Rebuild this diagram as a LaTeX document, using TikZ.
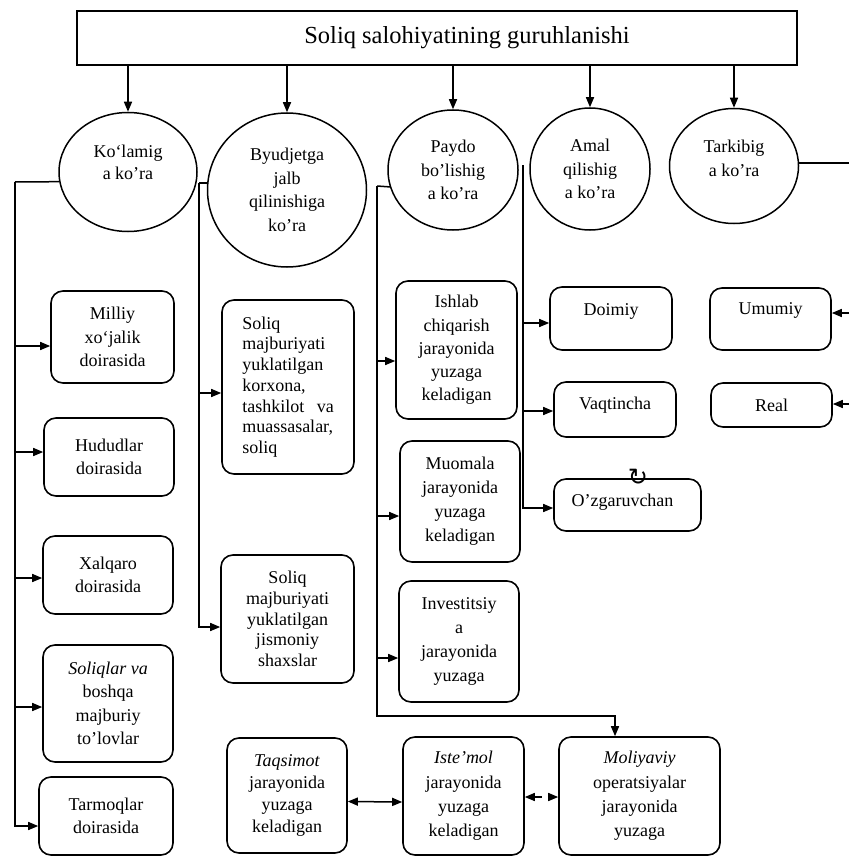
\documentclass[tikz,border=0pt]{standalone}
\usepackage{fontspec}
\setmainfont{Liberation Serif}
\newfontfamily\symfont{DejaVu Sans}
\usetikzlibrary{shapes.geometric,arrows.meta}

\begin{document}
\begin{tikzpicture}[x=1pt,y=-1pt,
  line width=1.5pt,
  every node/.style={font=\fontsize{18}{23.5}\selectfont, inner sep=0pt},
  box/.style={draw, rectangle, rounded corners=12pt, align=center, line width=1.6pt},
  oval/.style={draw, ellipse, align=center, line width=1.5pt},
  txt/.style={align=center},
  tight/.style={font=\fontsize{18}{20.7}\selectfont},
  arr/.style={-{Triangle[length=10pt,width=8pt]}},
  darr/.style={{Triangle[length=10pt,width=8pt]}-{Triangle[length=10pt,width=8pt]}},
]
\useasboundingbox (0,0) rectangle (849,856);

% heading
\node[draw, rectangle, minimum width=720, minimum height=54, line width=1.6pt,
      font=\fontsize{24.5}{28}\selectfont] (title) at (437,38)
      {\hspace*{60pt}Soliq salohiyatining guruhlanishi};

% five grouping criteria
\node[oval, minimum width=138, minimum height=119] (c1) at (128,172) {};
\node[txt, font=\fontsize{18}{21.5}\selectfont] (c1t) at ([yshift=9.5pt]c1.center) {Ko‘lamig\\a ko’ra};
\node[oval, minimum width=159, minimum height=154] (c2) at (287,190) {Byudjetga\\jalb\\qilinishiga\\ko’ra};
\node[oval, minimum width=130, minimum height=120] (c3) at (453,170) {Paydo\\bo’lishig\\a ko’ra};
\node[oval, minimum width=120, minimum height=122] (c4) at (590,169) {Amal\\qilishig\\a ko’ra};
\node[oval, minimum width=129, minimum height=115] (c5) at (734,166) {};
\node[txt] (c5t) at ([yshift=7.5pt]c5.center) {Tarkibig\\a ko’ra};

\foreach \c in {c1,c2,c3,c4,c5}
  \draw[arr] (title.south -| \c.north) -- (\c.north);

% by scale
\node[box, minimum width=123, minimum height=92] (milliy) at (112.5,337) {Milliy\\xo‘jalik\\doirasida};
\node[box, minimum width=130, minimum height=78] (hudud) at (109,457) {Hududlar\\doirasida};
\node[box, minimum width=130, minimum height=78] (xalqaro) at (108,575) {Xalqaro\\doirasida};
\node[box, minimum width=130, minimum height=117] (soliqlar) at (108,703.5) {\textit{Soliqlar va}\\boshqa\\majburiy\\to’lovlar};
\node[box, minimum width=134, minimum height=78] (tarmoq) at (106,816) {Tarmoqlar\\doirasida};

% by budget attraction
\node[box, tight, align=left, minimum width=132, minimum height=174] (korxona) at (288,387)
  {Soliq\\majburiyati\\yuklatilgan\\korxona,\\tashkilot\hspace{8pt} va\\muassasalar,\\soliq};
\node[box, tight, minimum width=133, minimum height=128] (jismoniy) at (287.5,619)
  {Soliq\\majburiyati\\yuklatilgan\\jismoniy\\shaxslar};

% by origin
\node[box, font=\fontsize{18}{23.3}\selectfont, minimum width=121, minimum height=138] (ishlab) at (456.5,350)
  {Ishlab\\chiqarish\\jarayonida\\yuzaga\\keladigan};
\node[box, font=\fontsize{18}{24}\selectfont, minimum width=120, minimum height=121] (muomala) at (460,501.5)
  {Muomala\\jarayonida\\yuzaga\\keladigan};
\node[box, font=\fontsize{18}{24}\selectfont, minimum width=120, minimum height=121] (invest) at (459,641.5)
  {Investitsiy\\a\\jarayonida\\yuzaga};
\node[box, font=\fontsize{18}{21.7}\selectfont, minimum width=120, minimum height=115] (taqsimot) at (287,795.5)
  {\textit{Taqsimot}\\jarayonida\\yuzaga\\keladigan};
\node[box, font=\fontsize{18}{24.3}\selectfont, minimum width=121, minimum height=118] (istemol) at (463.5,796)
  {\textit{Iste’mol}\\jarayonida\\yuzaga\\keladigan};
\node[box, font=\fontsize{18}{24.3}\selectfont, minimum width=161, minimum height=118] (moliya) at (639.5,796)
  {\textit{Moliyaviy}\\operatsiyalar\\jarayonida\\yuzaga};

% by operation
\node[box, minimum width=122, minimum height=63] (doimiy) at (611,318.5) {};
\node[txt] (doimiyt) at ([yshift=6.7pt]doimiy.center) {Doimiy};
\node[box, minimum width=122, minimum height=55] (vaqt) at (615,409.5) {};
\node[txt] (vaqtt) at ([yshift=4.7pt]vaqt.center) {Vaqtincha};
\node[box, minimum width=147, minimum height=52] (ozgar) at (627.5,505) {};
\node[txt] (ozgart) at ([xshift=-5pt,yshift=3.2pt]ozgar.center) {O’zgaruvchan};
\node (mark) at (638,477) {\symfont\fontsize{24}{24}\selectfont ↻};

% by structure
\node[box, minimum width=121, minimum height=62] (umumiy) at (770.5,319) {};
\node[txt] (umumiyt) at ([yshift=8.2pt]umumiy.center) {Umumiy};
\node[box, minimum width=121, minimum height=44] (real) at (771.5,405) {Real};

% junction points of the vertical trunks
\coordinate (k1) at (15,182);
\coordinate (k2) at (199,183);
\coordinate (k3) at (377,186);
\coordinate (k3b) at (377,716);
\coordinate (k4) at (523,165);
\coordinate (r0) at (849,163);
\coordinate (r1) at (849,313);
\coordinate (r2) at (849,404);

% scale trunk
\draw (c1.188) -- (k1);
\draw[arr] (k1) |- ([yshift=-9pt]milliy.west);
\draw[arr] (k1) |- ([yshift=5pt]hudud.west);
\draw[arr] (k1) |- ([yshift=-3pt]xalqaro.west);
\draw[arr] (k1) |- ([yshift=-3.5pt]soliqlar.west);
\draw[arr] (k1) |- ([yshift=-10pt]tarmoq.west);

% budget trunk
\draw ([yshift=7pt]c2.west) -- (k2);
\draw[arr] (k2) |- ([yshift=-6pt]korxona.west);
\draw[arr] (k2) |- ([yshift=-8pt]jismoniy.west);

% origin trunk
\draw (c3.195) -- (k3);
\draw[arr] (k3) |- ([yshift=-11pt]ishlab.west);
\draw[arr] (k3) |- ([yshift=-14.5pt]muomala.west);
\draw[arr] (k3) |- ([yshift=-16.5pt]invest.west);
\draw[arr] (k3) -- (k3b) -| ([xshift=-24.5pt]moliya.north);

% operation trunk
\draw[arr] (k4) |- ([yshift=-4.5pt]doimiy.west);
\draw[arr] (k4) |- ([yshift=-1.5pt]vaqt.west);
\draw[arr] (k4) |- ([yshift=-3pt]ozgar.west);

% structure branch, continuing past the right edge
\draw ([yshift=3pt]c5.east) -- (r0);
\draw[arr] (r1) -- (r1 -| umumiy.east);
\draw[arr] (r2) -- (r2 -| real.east);

% links along the bottom row
\draw[darr] ([yshift=-6pt]taqsimot.east) -- ([yshift=-6pt]istemol.west);
\draw[darr, dash pattern=on 8pt off 9pt] ([yshift=-1pt]istemol.east) -- ([yshift=-1pt]moliya.west);
\end{tikzpicture}
\end{document}
